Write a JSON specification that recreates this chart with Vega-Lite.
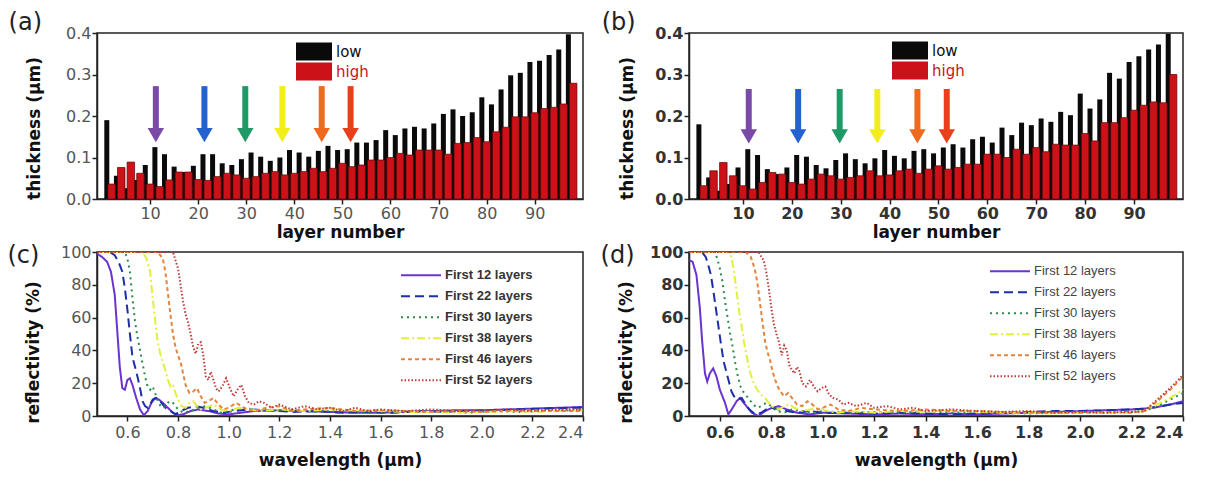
{
"$schema": "https://vega.github.io/schema/vega-lite/v6.json",
"background": "white",
"padding": {"left": 6, "top": 10, "right": 5, "bottom": 5},
"columns": 2,
"bounds": "flush",
"spacing": {"column": 106, "row": 53},
"resolve": {"scale": {"color": "independent", "strokeDash": "independent", "stroke": "independent", "fill": "independent"}},
"config": {
  "font": "Liberation Sans",
  "view": {"stroke": "#222", "strokeWidth": 1.5},
  "axis": {"grid": false, "domainColor": "#222", "domainWidth": 1.5, "tickColor": "#222", "tickWidth": 1.5, "tickSize": 5, "labelFont": "DejaVu Sans", "labelFontSize": 16, "labelColor": "#555", "labelPadding": 1, "titleFont": "DejaVu Sans", "titleFontSize": 17, "titleFontWeight": "bold", "titleColor": "#111"},
  "title": {"font": "DejaVu Sans", "fontSize": 24, "fontWeight": "normal", "color": "#222", "anchor": "start", "frame": "bounds", "offset": -10, "dx": -17}
},
"datasets": {
  "barsA": [
    {"layer":1,"type":"low","t":0.19},{"layer":2,"type":"high","t":0.036},{"layer":3,"type":"low","t":0.056},{"layer":4,"type":"high","t":0.076},
    {"layer":5,"type":"low","t":0.026},{"layer":6,"type":"high","t":0.089},{"layer":7,"type":"low","t":0.046},{"layer":8,"type":"high","t":0.062},
    {"layer":9,"type":"low","t":0.082},{"layer":10,"type":"high","t":0.036},{"layer":11,"type":"low","t":0.125},{"layer":12,"type":"high","t":0.03},
    {"layer":13,"type":"low","t":0.108},{"layer":14,"type":"high","t":0.046},{"layer":15,"type":"low","t":0.078},{"layer":16,"type":"high","t":0.065},
    {"layer":17,"type":"low","t":0.065},{"layer":18,"type":"high","t":0.065},{"layer":19,"type":"low","t":0.08},{"layer":20,"type":"high","t":0.047},
    {"layer":21,"type":"low","t":0.108},{"layer":22,"type":"high","t":0.045},{"layer":23,"type":"low","t":0.108},{"layer":24,"type":"high","t":0.054},
    {"layer":25,"type":"low","t":0.086},{"layer":26,"type":"high","t":0.062},{"layer":27,"type":"low","t":0.082},{"layer":28,"type":"high","t":0.058},
    {"layer":29,"type":"low","t":0.096},{"layer":30,"type":"high","t":0.05},{"layer":31,"type":"low","t":0.112},{"layer":32,"type":"high","t":0.054},
    {"layer":33,"type":"low","t":0.102},{"layer":34,"type":"high","t":0.062},{"layer":35,"type":"low","t":0.092},{"layer":36,"type":"high","t":0.066},
    {"layer":37,"type":"low","t":0.1},{"layer":38,"type":"high","t":0.058},{"layer":39,"type":"low","t":0.118},{"layer":40,"type":"high","t":0.062},
    {"layer":41,"type":"low","t":0.112},{"layer":42,"type":"high","t":0.066},{"layer":43,"type":"low","t":0.102},{"layer":44,"type":"high","t":0.074},
    {"layer":45,"type":"low","t":0.116},{"layer":46,"type":"high","t":0.066},{"layer":47,"type":"low","t":0.128},{"layer":48,"type":"high","t":0.074},
    {"layer":49,"type":"low","t":0.118},{"layer":50,"type":"high","t":0.086},{"layer":51,"type":"low","t":0.12},{"layer":52,"type":"high","t":0.078},
    {"layer":53,"type":"low","t":0.136},{"layer":54,"type":"high","t":0.082},{"layer":55,"type":"low","t":0.136},{"layer":56,"type":"high","t":0.094},
    {"layer":57,"type":"low","t":0.142},{"layer":58,"type":"high","t":0.094},{"layer":59,"type":"low","t":0.166},{"layer":60,"type":"high","t":0.1},
    {"layer":61,"type":"low","t":0.154},{"layer":62,"type":"high","t":0.11},{"layer":63,"type":"low","t":0.17},{"layer":64,"type":"high","t":0.106},
    {"layer":65,"type":"low","t":0.174},{"layer":66,"type":"high","t":0.118},{"layer":67,"type":"low","t":0.17},{"layer":68,"type":"high","t":0.118},
    {"layer":69,"type":"low","t":0.182},{"layer":70,"type":"high","t":0.118},{"layer":71,"type":"low","t":0.205},{"layer":72,"type":"high","t":0.108},
    {"layer":73,"type":"low","t":0.216},{"layer":74,"type":"high","t":0.134},{"layer":75,"type":"low","t":0.2},{"layer":76,"type":"high","t":0.136},
    {"layer":77,"type":"low","t":0.209},{"layer":78,"type":"high","t":0.148},{"layer":79,"type":"low","t":0.245},{"layer":80,"type":"high","t":0.138},
    {"layer":81,"type":"low","t":0.228},{"layer":82,"type":"high","t":0.162},{"layer":83,"type":"low","t":0.264},{"layer":84,"type":"high","t":0.173},
    {"layer":85,"type":"low","t":0.298},{"layer":86,"type":"high","t":0.198},{"layer":87,"type":"low","t":0.304},{"layer":88,"type":"high","t":0.198},
    {"layer":89,"type":"low","t":0.33},{"layer":90,"type":"high","t":0.208},{"layer":91,"type":"low","t":0.333},{"layer":92,"type":"high","t":0.218},
    {"layer":93,"type":"low","t":0.347},{"layer":94,"type":"high","t":0.221},{"layer":95,"type":"low","t":0.36},{"layer":96,"type":"high","t":0.229},
    {"layer":97,"type":"low","t":0.397},{"layer":98,"type":"high","t":0.279}
  ],
  "barsB": [
    {"layer":1,"type":"low","t":0.18},{"layer":2,"type":"high","t":0.032},{"layer":3,"type":"low","t":0.052},{"layer":4,"type":"high","t":0.068},
    {"layer":5,"type":"low","t":0.02},{"layer":6,"type":"high","t":0.088},{"layer":7,"type":"low","t":0.036},{"layer":8,"type":"high","t":0.056},
    {"layer":9,"type":"low","t":0.076},{"layer":10,"type":"high","t":0.032},{"layer":11,"type":"low","t":0.12},{"layer":12,"type":"high","t":0.024},
    {"layer":13,"type":"low","t":0.106},{"layer":14,"type":"high","t":0.04},{"layer":15,"type":"low","t":0.072},{"layer":16,"type":"high","t":0.064},
    {"layer":17,"type":"low","t":0.06},{"layer":18,"type":"high","t":0.06},{"layer":19,"type":"low","t":0.076},{"layer":20,"type":"high","t":0.04},
    {"layer":21,"type":"low","t":0.106},{"layer":22,"type":"high","t":0.036},{"layer":23,"type":"low","t":0.102},{"layer":24,"type":"high","t":0.048},
    {"layer":25,"type":"low","t":0.082},{"layer":26,"type":"high","t":0.06},{"layer":27,"type":"low","t":0.074},{"layer":28,"type":"high","t":0.056},
    {"layer":29,"type":"low","t":0.094},{"layer":30,"type":"high","t":0.048},{"layer":31,"type":"low","t":0.11},{"layer":32,"type":"high","t":0.052},
    {"layer":33,"type":"low","t":0.096},{"layer":34,"type":"high","t":0.056},{"layer":35,"type":"low","t":0.086},{"layer":36,"type":"high","t":0.068},
    {"layer":37,"type":"low","t":0.098},{"layer":38,"type":"high","t":0.056},{"layer":39,"type":"low","t":0.118},{"layer":40,"type":"high","t":0.058},
    {"layer":41,"type":"low","t":0.104},{"layer":42,"type":"high","t":0.068},{"layer":43,"type":"low","t":0.098},{"layer":44,"type":"high","t":0.072},
    {"layer":45,"type":"low","t":0.116},{"layer":46,"type":"high","t":0.062},{"layer":47,"type":"low","t":0.12},{"layer":48,"type":"high","t":0.072},
    {"layer":49,"type":"low","t":0.11},{"layer":50,"type":"high","t":0.08},{"layer":51,"type":"low","t":0.124},{"layer":52,"type":"high","t":0.072},
    {"layer":53,"type":"low","t":0.132},{"layer":54,"type":"high","t":0.076},{"layer":55,"type":"low","t":0.124},{"layer":56,"type":"high","t":0.084},
    {"layer":57,"type":"low","t":0.144},{"layer":58,"type":"high","t":0.084},{"layer":59,"type":"low","t":0.15},{"layer":60,"type":"high","t":0.108},
    {"layer":61,"type":"low","t":0.136},{"layer":62,"type":"high","t":0.108},{"layer":63,"type":"low","t":0.172},{"layer":64,"type":"high","t":0.1},
    {"layer":65,"type":"low","t":0.154},{"layer":66,"type":"high","t":0.12},{"layer":67,"type":"low","t":0.184},{"layer":68,"type":"high","t":0.108},
    {"layer":69,"type":"low","t":0.178},{"layer":70,"type":"high","t":0.124},{"layer":71,"type":"low","t":0.194},{"layer":72,"type":"high","t":0.114},
    {"layer":73,"type":"low","t":0.186},{"layer":74,"type":"high","t":0.132},{"layer":75,"type":"low","t":0.21},{"layer":76,"type":"high","t":0.13},
    {"layer":77,"type":"low","t":0.202},{"layer":78,"type":"high","t":0.13},{"layer":79,"type":"low","t":0.254},{"layer":80,"type":"high","t":0.158},
    {"layer":81,"type":"low","t":0.218},{"layer":82,"type":"high","t":0.14},{"layer":83,"type":"low","t":0.24},{"layer":84,"type":"high","t":0.184},
    {"layer":85,"type":"low","t":0.304},{"layer":86,"type":"high","t":0.184},{"layer":87,"type":"low","t":0.29},{"layer":88,"type":"high","t":0.196},
    {"layer":89,"type":"low","t":0.33},{"layer":90,"type":"high","t":0.214},{"layer":91,"type":"low","t":0.344},{"layer":92,"type":"high","t":0.226},
    {"layer":93,"type":"low","t":0.36},{"layer":94,"type":"high","t":0.234},{"layer":95,"type":"low","t":0.372},{"layer":96,"type":"high","t":0.232},
    {"layer":97,"type":"low","t":0.398},{"layer":98,"type":"high","t":0.3}
  ],
  "arrows": [
    {"n":12,"pos":11.2},{"n":22,"pos":21.3},{"n":30,"pos":29.8},{"n":38,"pos":37.5},{"n":46,"pos":45.7},{"n":52,"pos":51.7}
  ],
  "reflC": [
    {"s":"First 12 layers","w":0.48,"r":99},{"s":"First 12 layers","w":0.5,"r":97},{"s":"First 12 layers","w":0.52,"r":94},{"s":"First 12 layers","w":0.535,"r":88},{"s":"First 12 layers","w":0.55,"r":74},{"s":"First 12 layers","w":0.56,"r":52},{"s":"First 12 layers","w":0.57,"r":30},{"s":"First 12 layers","w":0.58,"r":17},{"s":"First 12 layers","w":0.59,"r":16},{"s":"First 12 layers","w":0.6,"r":22},{"s":"First 12 layers","w":0.61,"r":23},{"s":"First 12 layers","w":0.62,"r":19},{"s":"First 12 layers","w":0.635,"r":11},{"s":"First 12 layers","w":0.65,"r":4},{"s":"First 12 layers","w":0.665,"r":0.5},{"s":"First 12 layers","w":0.68,"r":3},{"s":"First 12 layers","w":0.695,"r":8},{"s":"First 12 layers","w":0.71,"r":11},{"s":"First 12 layers","w":0.725,"r":10},{"s":"First 12 layers","w":0.74,"r":8},{"s":"First 12 layers","w":0.76,"r":5},{"s":"First 12 layers","w":0.78,"r":2},{"s":"First 12 layers","w":0.8,"r":0.5},{"s":"First 12 layers","w":0.82,"r":1},{"s":"First 12 layers","w":0.85,"r":3},{"s":"First 12 layers","w":0.88,"r":4},{"s":"First 12 layers","w":0.92,"r":3},{"s":"First 12 layers","w":0.96,"r":1.5},{"s":"First 12 layers","w":1.0,"r":1},{"s":"First 12 layers","w":1.05,"r":2},{"s":"First 12 layers","w":1.1,"r":3},{"s":"First 12 layers","w":1.2,"r":3.5},{"s":"First 12 layers","w":1.3,"r":3},{"s":"First 12 layers","w":1.4,"r":2.5},{"s":"First 12 layers","w":1.5,"r":2},{"s":"First 12 layers","w":1.6,"r":2},{"s":"First 12 layers","w":1.7,"r":2.5},{"s":"First 12 layers","w":1.8,"r":3},{"s":"First 12 layers","w":1.9,"r":3.5},{"s":"First 12 layers","w":2.0,"r":3.5},{"s":"First 12 layers","w":2.1,"r":4},{"s":"First 12 layers","w":2.2,"r":4.5},{"s":"First 12 layers","w":2.3,"r":5},{"s":"First 12 layers","w":2.4,"r":5.5},
    {"s":"First 22 layers","w":0.48,"r":100},{"s":"First 22 layers","w":0.53,"r":100},{"s":"First 22 layers","w":0.55,"r":98},{"s":"First 22 layers","w":0.565,"r":94},{"s":"First 22 layers","w":0.58,"r":88},{"s":"First 22 layers","w":0.59,"r":78},{"s":"First 22 layers","w":0.6,"r":65},{"s":"First 22 layers","w":0.61,"r":50},{"s":"First 22 layers","w":0.62,"r":36},{"s":"First 22 layers","w":0.63,"r":30},{"s":"First 22 layers","w":0.64,"r":24},{"s":"First 22 layers","w":0.65,"r":17},{"s":"First 22 layers","w":0.66,"r":9},{"s":"First 22 layers","w":0.67,"r":6},{"s":"First 22 layers","w":0.68,"r":5},{"s":"First 22 layers","w":0.69,"r":7},{"s":"First 22 layers","w":0.7,"r":10},{"s":"First 22 layers","w":0.715,"r":11},{"s":"First 22 layers","w":0.73,"r":9},{"s":"First 22 layers","w":0.75,"r":5},{"s":"First 22 layers","w":0.77,"r":3},{"s":"First 22 layers","w":0.79,"r":1},{"s":"First 22 layers","w":0.81,"r":3},{"s":"First 22 layers","w":0.84,"r":5},{"s":"First 22 layers","w":0.87,"r":6},{"s":"First 22 layers","w":0.9,"r":5},{"s":"First 22 layers","w":0.94,"r":3},{"s":"First 22 layers","w":0.98,"r":2},{"s":"First 22 layers","w":1.02,"r":3},{"s":"First 22 layers","w":1.08,"r":4},{"s":"First 22 layers","w":1.15,"r":3.5},{"s":"First 22 layers","w":1.25,"r":2.5},{"s":"First 22 layers","w":1.35,"r":3},{"s":"First 22 layers","w":1.45,"r":2},{"s":"First 22 layers","w":1.55,"r":2.5},{"s":"First 22 layers","w":1.65,"r":2},{"s":"First 22 layers","w":1.75,"r":3},{"s":"First 22 layers","w":1.85,"r":2.5},{"s":"First 22 layers","w":1.95,"r":3},{"s":"First 22 layers","w":2.05,"r":3.5},{"s":"First 22 layers","w":2.15,"r":4},{"s":"First 22 layers","w":2.25,"r":4.5},{"s":"First 22 layers","w":2.35,"r":5},{"s":"First 22 layers","w":2.4,"r":5},
    {"s":"First 30 layers","w":0.48,"r":100},{"s":"First 30 layers","w":0.59,"r":100},{"s":"First 30 layers","w":0.6,"r":96},{"s":"First 30 layers","w":0.61,"r":88},{"s":"First 30 layers","w":0.62,"r":72},{"s":"First 30 layers","w":0.63,"r":58},{"s":"First 30 layers","w":0.64,"r":48},{"s":"First 30 layers","w":0.65,"r":40},{"s":"First 30 layers","w":0.66,"r":32},{"s":"First 30 layers","w":0.67,"r":24},{"s":"First 30 layers","w":0.68,"r":18},{"s":"First 30 layers","w":0.69,"r":16},{"s":"First 30 layers","w":0.7,"r":18},{"s":"First 30 layers","w":0.71,"r":14},{"s":"First 30 layers","w":0.72,"r":9},{"s":"First 30 layers","w":0.735,"r":5},{"s":"First 30 layers","w":0.75,"r":6},{"s":"First 30 layers","w":0.765,"r":9},{"s":"First 30 layers","w":0.78,"r":8},{"s":"First 30 layers","w":0.8,"r":4},{"s":"First 30 layers","w":0.82,"r":2},{"s":"First 30 layers","w":0.85,"r":3},{"s":"First 30 layers","w":0.88,"r":5},{"s":"First 30 layers","w":0.91,"r":6},{"s":"First 30 layers","w":0.94,"r":4},{"s":"First 30 layers","w":0.97,"r":2},{"s":"First 30 layers","w":1.0,"r":3},{"s":"First 30 layers","w":1.05,"r":5},{"s":"First 30 layers","w":1.1,"r":4},{"s":"First 30 layers","w":1.15,"r":3},{"s":"First 30 layers","w":1.25,"r":4},{"s":"First 30 layers","w":1.35,"r":2.5},{"s":"First 30 layers","w":1.45,"r":3.5},{"s":"First 30 layers","w":1.55,"r":2},{"s":"First 30 layers","w":1.65,"r":3},{"s":"First 30 layers","w":1.75,"r":2.5},{"s":"First 30 layers","w":1.85,"r":3},{"s":"First 30 layers","w":1.95,"r":2},{"s":"First 30 layers","w":2.05,"r":3},{"s":"First 30 layers","w":2.15,"r":2.5},{"s":"First 30 layers","w":2.25,"r":3},{"s":"First 30 layers","w":2.35,"r":3.5},{"s":"First 30 layers","w":2.4,"r":4},
    {"s":"First 38 layers","w":0.48,"r":100},{"s":"First 38 layers","w":0.66,"r":100},{"s":"First 38 layers","w":0.675,"r":96},{"s":"First 38 layers","w":0.69,"r":88},{"s":"First 38 layers","w":0.7,"r":72},{"s":"First 38 layers","w":0.71,"r":58},{"s":"First 38 layers","w":0.72,"r":45},{"s":"First 38 layers","w":0.73,"r":38},{"s":"First 38 layers","w":0.74,"r":33},{"s":"First 38 layers","w":0.75,"r":28},{"s":"First 38 layers","w":0.76,"r":22},{"s":"First 38 layers","w":0.77,"r":18},{"s":"First 38 layers","w":0.78,"r":19},{"s":"First 38 layers","w":0.79,"r":14},{"s":"First 38 layers","w":0.8,"r":10},{"s":"First 38 layers","w":0.815,"r":6},{"s":"First 38 layers","w":0.83,"r":5},{"s":"First 38 layers","w":0.845,"r":8},{"s":"First 38 layers","w":0.86,"r":9},{"s":"First 38 layers","w":0.875,"r":6},{"s":"First 38 layers","w":0.89,"r":4},{"s":"First 38 layers","w":0.91,"r":5},{"s":"First 38 layers","w":0.94,"r":7},{"s":"First 38 layers","w":0.97,"r":4},{"s":"First 38 layers","w":1.0,"r":3},{"s":"First 38 layers","w":1.04,"r":5},{"s":"First 38 layers","w":1.08,"r":4},{"s":"First 38 layers","w":1.12,"r":3},{"s":"First 38 layers","w":1.2,"r":4},{"s":"First 38 layers","w":1.3,"r":3},{"s":"First 38 layers","w":1.4,"r":4},{"s":"First 38 layers","w":1.5,"r":3.5},{"s":"First 38 layers","w":1.6,"r":3},{"s":"First 38 layers","w":1.7,"r":2.5},{"s":"First 38 layers","w":1.8,"r":2.5},{"s":"First 38 layers","w":1.9,"r":2},{"s":"First 38 layers","w":2.0,"r":2.5},{"s":"First 38 layers","w":2.1,"r":3},{"s":"First 38 layers","w":2.2,"r":2.5},{"s":"First 38 layers","w":2.3,"r":3},{"s":"First 38 layers","w":2.4,"r":3.5},
    {"s":"First 46 layers","w":0.48,"r":100},{"s":"First 46 layers","w":0.72,"r":100},{"s":"First 46 layers","w":0.74,"r":96},{"s":"First 46 layers","w":0.75,"r":88},{"s":"First 46 layers","w":0.76,"r":75},{"s":"First 46 layers","w":0.77,"r":62},{"s":"First 46 layers","w":0.78,"r":50},{"s":"First 46 layers","w":0.79,"r":42},{"s":"First 46 layers","w":0.8,"r":37},{"s":"First 46 layers","w":0.81,"r":33},{"s":"First 46 layers","w":0.82,"r":26},{"s":"First 46 layers","w":0.83,"r":19},{"s":"First 46 layers","w":0.845,"r":14},{"s":"First 46 layers","w":0.86,"r":15},{"s":"First 46 layers","w":0.875,"r":17},{"s":"First 46 layers","w":0.89,"r":12},{"s":"First 46 layers","w":0.905,"r":8},{"s":"First 46 layers","w":0.92,"r":9},{"s":"First 46 layers","w":0.94,"r":11},{"s":"First 46 layers","w":0.96,"r":7},{"s":"First 46 layers","w":0.98,"r":4},{"s":"First 46 layers","w":1.0,"r":5},{"s":"First 46 layers","w":1.03,"r":8},{"s":"First 46 layers","w":1.06,"r":5},{"s":"First 46 layers","w":1.1,"r":3},{"s":"First 46 layers","w":1.15,"r":5},{"s":"First 46 layers","w":1.2,"r":6},{"s":"First 46 layers","w":1.25,"r":3},{"s":"First 46 layers","w":1.3,"r":4},{"s":"First 46 layers","w":1.4,"r":5},{"s":"First 46 layers","w":1.5,"r":3},{"s":"First 46 layers","w":1.6,"r":3.5},{"s":"First 46 layers","w":1.7,"r":3},{"s":"First 46 layers","w":1.8,"r":2.5},{"s":"First 46 layers","w":1.9,"r":3},{"s":"First 46 layers","w":2.0,"r":2.5},{"s":"First 46 layers","w":2.1,"r":3},{"s":"First 46 layers","w":2.2,"r":3.5},{"s":"First 46 layers","w":2.3,"r":3},{"s":"First 46 layers","w":2.4,"r":3},
    {"s":"First 52 layers","w":0.48,"r":100},{"s":"First 52 layers","w":0.78,"r":100},{"s":"First 52 layers","w":0.8,"r":90},{"s":"First 52 layers","w":0.81,"r":80},{"s":"First 52 layers","w":0.82,"r":70},{"s":"First 52 layers","w":0.83,"r":62},{"s":"First 52 layers","w":0.84,"r":57},{"s":"First 52 layers","w":0.85,"r":50},{"s":"First 52 layers","w":0.86,"r":42},{"s":"First 52 layers","w":0.87,"r":38},{"s":"First 52 layers","w":0.88,"r":44},{"s":"First 52 layers","w":0.89,"r":45},{"s":"First 52 layers","w":0.9,"r":37},{"s":"First 52 layers","w":0.91,"r":24},{"s":"First 52 layers","w":0.92,"r":22},{"s":"First 52 layers","w":0.93,"r":27},{"s":"First 52 layers","w":0.94,"r":22},{"s":"First 52 layers","w":0.95,"r":17},{"s":"First 52 layers","w":0.96,"r":15},{"s":"First 52 layers","w":0.975,"r":18},{"s":"First 52 layers","w":0.99,"r":23},{"s":"First 52 layers","w":1.005,"r":17},{"s":"First 52 layers","w":1.02,"r":12},{"s":"First 52 layers","w":1.035,"r":16},{"s":"First 52 layers","w":1.05,"r":19},{"s":"First 52 layers","w":1.065,"r":12},{"s":"First 52 layers","w":1.08,"r":8},{"s":"First 52 layers","w":1.1,"r":7},{"s":"First 52 layers","w":1.12,"r":9},{"s":"First 52 layers","w":1.14,"r":8},{"s":"First 52 layers","w":1.17,"r":5},{"s":"First 52 layers","w":1.2,"r":7},{"s":"First 52 layers","w":1.25,"r":4},{"s":"First 52 layers","w":1.3,"r":6},{"s":"First 52 layers","w":1.35,"r":4},{"s":"First 52 layers","w":1.4,"r":5},{"s":"First 52 layers","w":1.45,"r":3},{"s":"First 52 layers","w":1.5,"r":5},{"s":"First 52 layers","w":1.55,"r":3},{"s":"First 52 layers","w":1.6,"r":4},{"s":"First 52 layers","w":1.7,"r":3},{"s":"First 52 layers","w":1.8,"r":4},{"s":"First 52 layers","w":1.9,"r":3},{"s":"First 52 layers","w":2.0,"r":3.5},{"s":"First 52 layers","w":2.1,"r":4},{"s":"First 52 layers","w":2.2,"r":3},{"s":"First 52 layers","w":2.3,"r":4},{"s":"First 52 layers","w":2.4,"r":4}
  ],
  "reflD": [
    {"s":"First 12 layers","w":0.48,"r":95},{"s":"First 12 layers","w":0.494,"r":94},{"s":"First 12 layers","w":0.509,"r":86},{"s":"First 12 layers","w":0.522,"r":66},{"s":"First 12 layers","w":0.531,"r":46},{"s":"First 12 layers","w":0.542,"r":26},{"s":"First 12 layers","w":0.551,"r":21},{"s":"First 12 layers","w":0.561,"r":26},{"s":"First 12 layers","w":0.574,"r":29},{"s":"First 12 layers","w":0.587,"r":24},{"s":"First 12 layers","w":0.6,"r":16},{"s":"First 12 layers","w":0.62,"r":8},{"s":"First 12 layers","w":0.633,"r":1},{"s":"First 12 layers","w":0.646,"r":4},{"s":"First 12 layers","w":0.665,"r":9},{"s":"First 12 layers","w":0.678,"r":11},{"s":"First 12 layers","w":0.698,"r":7},{"s":"First 12 layers","w":0.724,"r":2},{"s":"First 12 layers","w":0.75,"r":0},{"s":"First 12 layers","w":0.776,"r":3},{"s":"First 12 layers","w":0.802,"r":5},{"s":"First 12 layers","w":0.828,"r":6},{"s":"First 12 layers","w":0.86,"r":4},{"s":"First 12 layers","w":0.9,"r":2},{"s":"First 12 layers","w":0.95,"r":1},{"s":"First 12 layers","w":1.0,"r":2},{"s":"First 12 layers","w":1.1,"r":1.5},{"s":"First 12 layers","w":1.2,"r":1},{"s":"First 12 layers","w":1.3,"r":1.5},{"s":"First 12 layers","w":1.4,"r":1},{"s":"First 12 layers","w":1.5,"r":1.5},{"s":"First 12 layers","w":1.6,"r":1},{"s":"First 12 layers","w":1.7,"r":1.5},{"s":"First 12 layers","w":1.8,"r":2},{"s":"First 12 layers","w":1.9,"r":2.5},{"s":"First 12 layers","w":2.0,"r":3},{"s":"First 12 layers","w":2.1,"r":3.5},{"s":"First 12 layers","w":2.2,"r":4},{"s":"First 12 layers","w":2.25,"r":4.5},{"s":"First 12 layers","w":2.3,"r":5.5},{"s":"First 12 layers","w":2.35,"r":7},{"s":"First 12 layers","w":2.4,"r":9},
    {"s":"First 22 layers","w":0.48,"r":100},{"s":"First 22 layers","w":0.53,"r":100},{"s":"First 22 layers","w":0.545,"r":97},{"s":"First 22 layers","w":0.555,"r":92},{"s":"First 22 layers","w":0.565,"r":86},{"s":"First 22 layers","w":0.575,"r":76},{"s":"First 22 layers","w":0.585,"r":65},{"s":"First 22 layers","w":0.595,"r":54},{"s":"First 22 layers","w":0.605,"r":43},{"s":"First 22 layers","w":0.615,"r":33},{"s":"First 22 layers","w":0.625,"r":27},{"s":"First 22 layers","w":0.635,"r":21},{"s":"First 22 layers","w":0.645,"r":15},{"s":"First 22 layers","w":0.655,"r":12},{"s":"First 22 layers","w":0.67,"r":10},{"s":"First 22 layers","w":0.685,"r":11},{"s":"First 22 layers","w":0.7,"r":7},{"s":"First 22 layers","w":0.715,"r":4},{"s":"First 22 layers","w":0.73,"r":2},{"s":"First 22 layers","w":0.745,"r":1},{"s":"First 22 layers","w":0.76,"r":2},{"s":"First 22 layers","w":0.78,"r":4},{"s":"First 22 layers","w":0.8,"r":5},{"s":"First 22 layers","w":0.83,"r":4},{"s":"First 22 layers","w":0.86,"r":3},{"s":"First 22 layers","w":0.9,"r":2},{"s":"First 22 layers","w":0.95,"r":3},{"s":"First 22 layers","w":1.0,"r":2},{"s":"First 22 layers","w":1.1,"r":2},{"s":"First 22 layers","w":1.2,"r":1.5},{"s":"First 22 layers","w":1.3,"r":2},{"s":"First 22 layers","w":1.4,"r":1.5},{"s":"First 22 layers","w":1.5,"r":1},{"s":"First 22 layers","w":1.6,"r":1.5},{"s":"First 22 layers","w":1.7,"r":2},{"s":"First 22 layers","w":1.8,"r":2.5},{"s":"First 22 layers","w":1.9,"r":3},{"s":"First 22 layers","w":2.0,"r":3},{"s":"First 22 layers","w":2.1,"r":3.5},{"s":"First 22 layers","w":2.2,"r":4},{"s":"First 22 layers","w":2.25,"r":4.5},{"s":"First 22 layers","w":2.3,"r":5.5},{"s":"First 22 layers","w":2.35,"r":7},{"s":"First 22 layers","w":2.4,"r":8},
    {"s":"First 30 layers","w":0.48,"r":100},{"s":"First 30 layers","w":0.58,"r":100},{"s":"First 30 layers","w":0.59,"r":96},{"s":"First 30 layers","w":0.6,"r":90},{"s":"First 30 layers","w":0.61,"r":82},{"s":"First 30 layers","w":0.62,"r":70},{"s":"First 30 layers","w":0.63,"r":60},{"s":"First 30 layers","w":0.64,"r":50},{"s":"First 30 layers","w":0.65,"r":42},{"s":"First 30 layers","w":0.66,"r":32},{"s":"First 30 layers","w":0.67,"r":24},{"s":"First 30 layers","w":0.68,"r":18},{"s":"First 30 layers","w":0.69,"r":15},{"s":"First 30 layers","w":0.7,"r":13},{"s":"First 30 layers","w":0.715,"r":10},{"s":"First 30 layers","w":0.73,"r":7},{"s":"First 30 layers","w":0.745,"r":5},{"s":"First 30 layers","w":0.76,"r":6},{"s":"First 30 layers","w":0.78,"r":8},{"s":"First 30 layers","w":0.8,"r":6},{"s":"First 30 layers","w":0.82,"r":3},{"s":"First 30 layers","w":0.85,"r":2},{"s":"First 30 layers","w":0.88,"r":4},{"s":"First 30 layers","w":0.92,"r":3},{"s":"First 30 layers","w":0.96,"r":2},{"s":"First 30 layers","w":1.0,"r":3},{"s":"First 30 layers","w":1.1,"r":2},{"s":"First 30 layers","w":1.2,"r":2.5},{"s":"First 30 layers","w":1.3,"r":2},{"s":"First 30 layers","w":1.4,"r":3},{"s":"First 30 layers","w":1.5,"r":2},{"s":"First 30 layers","w":1.6,"r":2.5},{"s":"First 30 layers","w":1.7,"r":2},{"s":"First 30 layers","w":1.8,"r":1.5},{"s":"First 30 layers","w":1.9,"r":2},{"s":"First 30 layers","w":2.0,"r":2.5},{"s":"First 30 layers","w":2.1,"r":2},{"s":"First 30 layers","w":2.2,"r":2.5},{"s":"First 30 layers","w":2.25,"r":3},{"s":"First 30 layers","w":2.3,"r":6},{"s":"First 30 layers","w":2.35,"r":10},{"s":"First 30 layers","w":2.4,"r":14},
    {"s":"First 38 layers","w":0.48,"r":100},{"s":"First 38 layers","w":0.63,"r":100},{"s":"First 38 layers","w":0.645,"r":97},{"s":"First 38 layers","w":0.655,"r":88},{"s":"First 38 layers","w":0.665,"r":76},{"s":"First 38 layers","w":0.675,"r":64},{"s":"First 38 layers","w":0.685,"r":54},{"s":"First 38 layers","w":0.695,"r":44},{"s":"First 38 layers","w":0.705,"r":36},{"s":"First 38 layers","w":0.715,"r":28},{"s":"First 38 layers","w":0.725,"r":23},{"s":"First 38 layers","w":0.735,"r":19},{"s":"First 38 layers","w":0.745,"r":16},{"s":"First 38 layers","w":0.76,"r":13},{"s":"First 38 layers","w":0.775,"r":11},{"s":"First 38 layers","w":0.79,"r":8},{"s":"First 38 layers","w":0.81,"r":5},{"s":"First 38 layers","w":0.83,"r":4},{"s":"First 38 layers","w":0.85,"r":6},{"s":"First 38 layers","w":0.87,"r":7},{"s":"First 38 layers","w":0.89,"r":5},{"s":"First 38 layers","w":0.92,"r":3},{"s":"First 38 layers","w":0.95,"r":4},{"s":"First 38 layers","w":0.98,"r":5},{"s":"First 38 layers","w":1.02,"r":3},{"s":"First 38 layers","w":1.06,"r":2},{"s":"First 38 layers","w":1.1,"r":3},{"s":"First 38 layers","w":1.2,"r":2},{"s":"First 38 layers","w":1.3,"r":3},{"s":"First 38 layers","w":1.4,"r":2.5},{"s":"First 38 layers","w":1.5,"r":3.5},{"s":"First 38 layers","w":1.6,"r":2.5},{"s":"First 38 layers","w":1.7,"r":2},{"s":"First 38 layers","w":1.8,"r":2},{"s":"First 38 layers","w":1.9,"r":1.5},{"s":"First 38 layers","w":2.0,"r":2},{"s":"First 38 layers","w":2.1,"r":2},{"s":"First 38 layers","w":2.2,"r":2},{"s":"First 38 layers","w":2.25,"r":3},{"s":"First 38 layers","w":2.3,"r":7},{"s":"First 38 layers","w":2.35,"r":11},{"s":"First 38 layers","w":2.4,"r":16},
    {"s":"First 46 layers","w":0.48,"r":100},{"s":"First 46 layers","w":0.7,"r":100},{"s":"First 46 layers","w":0.72,"r":97},{"s":"First 46 layers","w":0.735,"r":90},{"s":"First 46 layers","w":0.745,"r":82},{"s":"First 46 layers","w":0.755,"r":70},{"s":"First 46 layers","w":0.765,"r":58},{"s":"First 46 layers","w":0.775,"r":46},{"s":"First 46 layers","w":0.785,"r":39},{"s":"First 46 layers","w":0.795,"r":34},{"s":"First 46 layers","w":0.805,"r":27},{"s":"First 46 layers","w":0.815,"r":22},{"s":"First 46 layers","w":0.825,"r":18},{"s":"First 46 layers","w":0.835,"r":15},{"s":"First 46 layers","w":0.85,"r":12},{"s":"First 46 layers","w":0.865,"r":14},{"s":"First 46 layers","w":0.88,"r":11},{"s":"First 46 layers","w":0.9,"r":7},{"s":"First 46 layers","w":0.92,"r":6},{"s":"First 46 layers","w":0.94,"r":9},{"s":"First 46 layers","w":0.96,"r":7},{"s":"First 46 layers","w":0.98,"r":4},{"s":"First 46 layers","w":1.0,"r":5},{"s":"First 46 layers","w":1.03,"r":7},{"s":"First 46 layers","w":1.06,"r":4},{"s":"First 46 layers","w":1.1,"r":3},{"s":"First 46 layers","w":1.15,"r":5},{"s":"First 46 layers","w":1.2,"r":4},{"s":"First 46 layers","w":1.3,"r":3},{"s":"First 46 layers","w":1.4,"r":4},{"s":"First 46 layers","w":1.5,"r":3},{"s":"First 46 layers","w":1.6,"r":3},{"s":"First 46 layers","w":1.7,"r":2.5},{"s":"First 46 layers","w":1.8,"r":2},{"s":"First 46 layers","w":1.9,"r":2},{"s":"First 46 layers","w":2.0,"r":2},{"s":"First 46 layers","w":2.1,"r":2.5},{"s":"First 46 layers","w":2.2,"r":2},{"s":"First 46 layers","w":2.25,"r":3},{"s":"First 46 layers","w":2.3,"r":9},{"s":"First 46 layers","w":2.35,"r":16},{"s":"First 46 layers","w":2.4,"r":24},
    {"s":"First 52 layers","w":0.48,"r":100},{"s":"First 52 layers","w":0.75,"r":100},{"s":"First 52 layers","w":0.77,"r":95},{"s":"First 52 layers","w":0.78,"r":88},{"s":"First 52 layers","w":0.79,"r":78},{"s":"First 52 layers","w":0.8,"r":66},{"s":"First 52 layers","w":0.81,"r":56},{"s":"First 52 layers","w":0.82,"r":50},{"s":"First 52 layers","w":0.83,"r":45},{"s":"First 52 layers","w":0.84,"r":37},{"s":"First 52 layers","w":0.85,"r":43},{"s":"First 52 layers","w":0.86,"r":40},{"s":"First 52 layers","w":0.87,"r":31},{"s":"First 52 layers","w":0.88,"r":28},{"s":"First 52 layers","w":0.89,"r":26},{"s":"First 52 layers","w":0.9,"r":30},{"s":"First 52 layers","w":0.91,"r":27},{"s":"First 52 layers","w":0.92,"r":20},{"s":"First 52 layers","w":0.935,"r":18},{"s":"First 52 layers","w":0.95,"r":22},{"s":"First 52 layers","w":0.965,"r":18},{"s":"First 52 layers","w":0.98,"r":15},{"s":"First 52 layers","w":0.995,"r":17},{"s":"First 52 layers","w":1.01,"r":18},{"s":"First 52 layers","w":1.025,"r":13},{"s":"First 52 layers","w":1.04,"r":11},{"s":"First 52 layers","w":1.06,"r":10},{"s":"First 52 layers","w":1.08,"r":7},{"s":"First 52 layers","w":1.1,"r":8},{"s":"First 52 layers","w":1.13,"r":6},{"s":"First 52 layers","w":1.17,"r":8},{"s":"First 52 layers","w":1.2,"r":5},{"s":"First 52 layers","w":1.25,"r":6},{"s":"First 52 layers","w":1.3,"r":4},{"s":"First 52 layers","w":1.35,"r":5},{"s":"First 52 layers","w":1.4,"r":3},{"s":"First 52 layers","w":1.5,"r":4},{"s":"First 52 layers","w":1.6,"r":3},{"s":"First 52 layers","w":1.7,"r":2.5},{"s":"First 52 layers","w":1.8,"r":3},{"s":"First 52 layers","w":1.9,"r":2},{"s":"First 52 layers","w":2.0,"r":2.5},{"s":"First 52 layers","w":2.1,"r":2},{"s":"First 52 layers","w":2.2,"r":2.5},{"s":"First 52 layers","w":2.25,"r":3},{"s":"First 52 layers","w":2.3,"r":10},{"s":"First 52 layers","w":2.35,"r":17},{"s":"First 52 layers","w":2.4,"r":25}
  ]
},
"concat": [
  {
    "width": 486, "height": 166,
    "title": {"text": "(a)"},
    "layer": [
      {"data": {"name": "barsA"}, "transform": [{"filter": "datum.type === 'low'"}],
       "mark": {"type": "bar", "size": 5, "clip": true},
       "encoding": {
         "x": {"field": "layer", "type": "quantitative", "scale": {"domain": [0, 99], "nice": false, "zero": false}, "axis": {"values": [10,20,30,40,50,60,70,80,90], "title": "layer number", "titlePadding": 3}},
         "y": {"field": "t", "type": "quantitative", "scale": {"domain": [0, 0.4], "nice": false}, "axis": {"values": [0,0.1,0.2,0.3,0.4], "format": ".1f", "title": "thickness (μm)", "titlePadding": 22, "titleY": 95}},
         "color": {"field": "type", "type": "nominal", "scale": {"domain": ["low","high"], "range": ["#0a0a0a","#cc1218"]},
           "legend": {"title": null, "orient": "none", "legendX": 199, "legendY": 9, "symbolType": "M-1,-0.5H1V0.5H-1Z", "symbolSize": 1296, "clipHeight": 19, "rowPadding": 1, "labelFont": "DejaVu Sans", "labelFontSize": 15, "labelOffset": 4, "symbolStrokeWidth": 0, "symbolOpacity": 1, "encode": {"labels": {"update": {"fill": {"signal": "datum.label === 'high' ? '#cc1218' : '#111'"}}}}}}
       }},
      {"data": {"name": "barsA"}, "transform": [{"filter": "datum.type === 'high'"}],
       "mark": {"type": "bar", "size": 7.5, "clip": true, "stroke": "#5a0606", "strokeWidth": 0.7},
       "encoding": {
         "x": {"field": "layer", "type": "quantitative"},
         "y": {"field": "t", "type": "quantitative"},
         "color": {"field": "type", "type": "nominal"}
       }},
      {"data": {"name": "arrows"}, "mark": {"type": "rule", "strokeWidth": 6},
       "encoding": {
         "x": {"field": "pos", "type": "quantitative"},
         "y": {"datum": 0.272}, "y2": {"datum": 0.168},
         "stroke": {"field": "n", "type": "ordinal", "scale": {"domain": [12,22,30,38,46,52], "range": ["#7a4aa8","#2463cf","#1f9a66","#f2ee1e","#f06a1e","#e8401c"]}, "legend": null}
       }},
      {"data": {"name": "arrows"}, "mark": {"type": "point", "shape": "triangle-down", "filled": true, "size": 270, "opacity": 1},
       "encoding": {
         "x": {"field": "pos", "type": "quantitative"},
         "y": {"datum": 0.154},
         "fill": {"field": "n", "type": "ordinal", "scale": {"domain": [12,22,30,38,46,52], "range": ["#7a4aa8","#2463cf","#1f9a66","#f2ee1e","#f06a1e","#e8401c"]}, "legend": null}
       }}
    ]
  },
  {
    "width": 494, "height": 166,
    "title": {"text": "(b)"},
    "layer": [
      {"data": {"name": "barsB"}, "transform": [{"filter": "datum.type === 'low'"}],
       "mark": {"type": "bar", "size": 5, "clip": true},
       "encoding": {
         "x": {"field": "layer", "type": "quantitative", "scale": {"domain": [0, 99], "nice": false, "zero": false}, "axis": {"values": [10,20,30,40,50,60,70,80,90], "title": "layer number", "titlePadding": 3, "labelFontWeight": "bold", "labelColor": "#333"}},
         "y": {"field": "t", "type": "quantitative", "scale": {"domain": [0, 0.4], "nice": false}, "axis": {"values": [0,0.1,0.2,0.3,0.4], "format": ".1f", "title": "thickness (μm)", "titlePadding": 18, "titleY": 95, "labelFontWeight": "bold", "labelColor": "#333"}},
         "color": {"field": "type", "type": "nominal", "scale": {"domain": ["low","high"], "range": ["#0a0a0a","#cc1218"]},
           "legend": {"title": null, "orient": "none", "legendX": 203, "legendY": 8, "symbolType": "M-1,-0.5H1V0.5H-1Z", "symbolSize": 1296, "clipHeight": 19, "rowPadding": 1, "labelFont": "DejaVu Sans", "labelFontSize": 15, "labelOffset": 4, "symbolStrokeWidth": 0, "symbolOpacity": 1, "encode": {"labels": {"update": {"fill": {"signal": "datum.label === 'high' ? '#cc1218' : '#111'"}}}}}}
       }},
      {"data": {"name": "barsB"}, "transform": [{"filter": "datum.type === 'high'"}],
       "mark": {"type": "bar", "size": 7.5, "clip": true, "stroke": "#5a0606", "strokeWidth": 0.7},
       "encoding": {
         "x": {"field": "layer", "type": "quantitative"},
         "y": {"field": "t", "type": "quantitative"},
         "color": {"field": "type", "type": "nominal"}
       }},
      {"data": {"name": "arrows"}, "mark": {"type": "rule", "strokeWidth": 6},
       "encoding": {
         "x": {"field": "pos", "type": "quantitative"},
         "y": {"datum": 0.265}, "y2": {"datum": 0.165},
         "stroke": {"field": "n", "type": "ordinal", "scale": {"domain": [12,22,30,38,46,52], "range": ["#7a4aa8","#2463cf","#1f9a66","#f2ee1e","#f06a1e","#e8401c"]}, "legend": null}
       }},
      {"data": {"name": "arrows"}, "mark": {"type": "point", "shape": "triangle-down", "filled": true, "size": 270, "opacity": 1},
       "encoding": {
         "x": {"field": "pos", "type": "quantitative"},
         "y": {"datum": 0.151},
         "fill": {"field": "n", "type": "ordinal", "scale": {"domain": [12,22,30,38,46,52], "range": ["#7a4aa8","#2463cf","#1f9a66","#f2ee1e","#f06a1e","#e8401c"]}, "legend": null}
       }}
    ]
  },
  {
    "width": 486, "height": 164,
    "title": {"text": "(c)", "dy": 14},
    "data": {"name": "reflC"},
    "mark": {"type": "line", "strokeWidth": 2, "clip": true},
    "encoding": {
      "x": {"field": "w", "type": "quantitative", "scale": {"domain": [0.48, 2.4], "nice": false, "zero": false}, "axis": {"values": [0.6,0.8,1.0,1.2,1.4,1.6,1.8,2.0,2.2,2.4], "format": ".1f", "title": "wavelength (μm)", "labelPadding": 3, "titlePadding": 12}},
      "y": {"field": "r", "type": "quantitative", "scale": {"domain": [0, 100], "nice": false}, "axis": {"values": [0,20,40,60,80,100], "title": "reflectivity (%)", "titlePadding": 18, "titleY": 100}},
      "color": {"field": "s", "type": "nominal", "scale": {"domain": ["First 12 layers","First 22 layers","First 30 layers","First 38 layers","First 46 layers","First 52 layers"], "range": ["#6a34d0","#1c2fa8","#2a8c4a","#e4ef3c","#e5843a","#c03a3a"]},
        "legend": {"title": null, "orient": "none", "legendX": 303, "legendY": 14, "symbolType": "stroke", "symbolSize": 1600, "symbolStrokeWidth": 2, "clipHeight": 18.5, "rowPadding": 2, "labelFont": "Liberation Sans", "labelFontSize": 13, "labelFontWeight": "bold", "labelColor": "#333", "labelOffset": 3}},
      "strokeDash": {"field": "s", "type": "nominal", "scale": {"domain": ["First 12 layers","First 22 layers","First 30 layers","First 38 layers","First 46 layers","First 52 layers"], "range": [[1,0],[9,5],[2,4],[8,3,2,3],[4,3],[1.5,2]]},
        "legend": {"title": null, "orient": "none", "legendX": 303, "legendY": 14, "symbolType": "stroke", "symbolSize": 1600, "symbolStrokeWidth": 2, "clipHeight": 18.5, "rowPadding": 2, "labelFont": "Liberation Sans", "labelFontSize": 13, "labelFontWeight": "bold", "labelColor": "#333", "labelOffset": 3}}
    }
  },
  {
    "width": 494, "height": 164,
    "title": {"text": "(d)", "dy": 14},
    "data": {"name": "reflD"},
    "mark": {"type": "line", "strokeWidth": 2, "clip": true},
    "encoding": {
      "x": {"field": "w", "type": "quantitative", "scale": {"domain": [0.48, 2.4], "nice": false, "zero": false}, "axis": {"values": [0.6,0.8,1.0,1.2,1.4,1.6,1.8,2.0,2.2,2.4], "format": ".1f", "title": "wavelength (μm)", "labelPadding": 3, "titlePadding": 12, "labelFontWeight": "bold", "labelColor": "#333"}},
      "y": {"field": "r", "type": "quantitative", "scale": {"domain": [0, 100], "nice": false}, "axis": {"values": [0,20,40,60,80,100], "title": "reflectivity (%)", "titlePadding": 14, "titleY": 100, "labelFontWeight": "bold", "labelColor": "#333"}},
      "color": {"field": "s", "type": "nominal", "scale": {"domain": ["First 12 layers","First 22 layers","First 30 layers","First 38 layers","First 46 layers","First 52 layers"], "range": ["#6a34d0","#1c2fa8","#2a8c4a","#e4ef3c","#e5843a","#c03a3a"]},
        "legend": {"title": null, "orient": "none", "legendX": 300, "legendY": 10, "symbolType": "stroke", "symbolSize": 1600, "symbolStrokeWidth": 2, "clipHeight": 18.5, "rowPadding": 2, "labelFont": "Liberation Sans", "labelFontSize": 13, "labelColor": "#444", "labelOffset": 3}},
      "strokeDash": {"field": "s", "type": "nominal", "scale": {"domain": ["First 12 layers","First 22 layers","First 30 layers","First 38 layers","First 46 layers","First 52 layers"], "range": [[1,0],[9,5],[2,4],[8,3,2,3],[4,3],[1.5,2]]},
        "legend": {"title": null, "orient": "none", "legendX": 300, "legendY": 10, "symbolType": "stroke", "symbolSize": 1600, "symbolStrokeWidth": 2, "clipHeight": 18.5, "rowPadding": 2, "labelFont": "Liberation Sans", "labelFontSize": 13, "labelColor": "#444", "labelOffset": 3}}
    }
  }
]
}
